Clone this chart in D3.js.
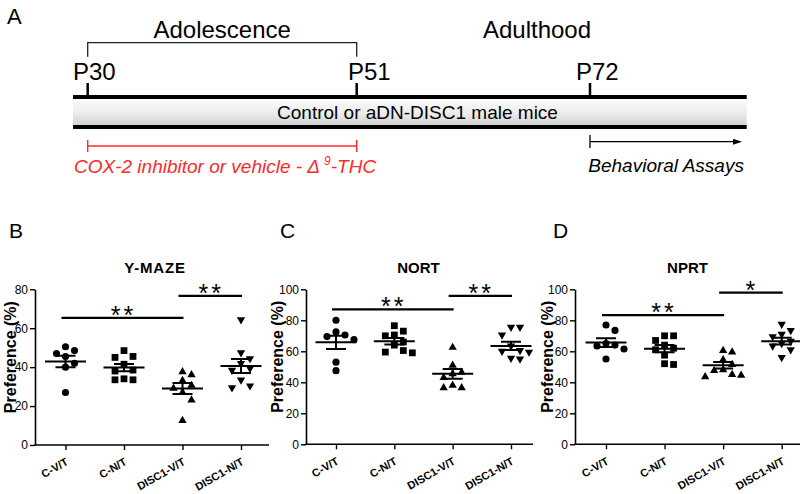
<!DOCTYPE html>
<html><head><meta charset="utf-8">
<script src="https://cdn.jsdelivr.net/npm/d3@7"></script>
<style>body{margin:0;background:#fff}svg{display:block;font-family:"Liberation Sans",Arial,Helvetica,sans-serif}</style>
</head><body><svg id="chart" width="800" height="494"></svg>
<script>
// ---------- DATA ----------
const categories = ["C-V/T", "C-N/T", "DISC1-V/T", "DISC1-N/T"];
const yTicksB = [0, 20, 40, 60, 80];
const yTicksCD = [0, 20, 40, 60, 80, 100];

const ymazeCV = [50.5, 48.5, 47, 45.5, 42, 40, 27];
const ymazeCN = [48.5, 45.5, 45, 41.5, 38.5, 38, 34, 33.5, 33.5];
const ymazeDV = [38, 36.5, 33.5, 31, 29.5, 27.5, 23.5, 13];
const ymazeDN = [64, 47, 44, 41.5, 39, 38, 33, 30, 29];

const nortCV = [80, 72.5, 70.5, 69.5, 67.5, 53, 47.5];
const nortCN = [76.5, 73, 70.5, 70, 66, 64, 60.5, 59.5, 59];
const nortDV = [63, 51.5, 47, 46, 43.5, 38.5, 37, 37];
const nortDN = [75, 75, 70, 63, 60, 59.5, 59, 55, 54.5];

const nprtCV = [77, 73.5, 65, 64, 63.5, 61.5, 55];
const nprtCN = [70, 70, 67, 64, 62, 61, 57.5, 52, 51.5];
const nprtDV = [61, 60, 55, 52, 48.5, 48, 45.5, 45, 44];
const nprtDN = [77, 73, 70.5, 69, 66, 64.5, 63, 60.5, 55.5];

// significance: [fromCategoryIndex, toCategoryIndex, yValue, label]
const ymazeSig = [[0, 2, 65.3, "**"], [2, 3, 76.6, "**"]];
const nortSig = [[0, 2, 87.1, "**"], [2, 3, 95.7, "**"]];
const nprtSig = [[0, 2, 83.4, "**"], [2, 3, 97.8, "*"]];

const timelineDays = [30, 51, 72];
const timelineLabels = ["P30", "P51", "P72"];
const stageLabels = ["Adolescence", "Adulthood"];
const bandText = "Control or aDN-DISC1 male mice";
const treatmentText = ["COX-2 inhibitor or vehicle - \u0394", "9", "-THC"];
const assayText = "Behavioral Assays";
const panelTitles = ["Y-MAZE", "NORT", "NPRT"];
const panelLetters = ["A", "B", "C", "D"];
const yAxisLabel = "Preference (%)";

// ---------- DRAW ----------
const svg = d3.select("#chart");
const red = "#ff2b2b";

// ===== Panel A =====
const tx = d3.scaleLinear().domain(timelineDays).range([87.7, 356.7, 590]);
const defs = svg.append("defs");
const grad = defs.append("linearGradient").attr("id", "band").attr("x1", 0).attr("y1", 0).attr("x2", 0).attr("y2", 1);
grad.append("stop").attr("offset", "0%").attr("stop-color", "#fbfbfb");
grad.append("stop").attr("offset", "55%").attr("stop-color", "#ececec");
grad.append("stop").attr("offset", "100%").attr("stop-color", "#cfcfcf");

const A = svg.append("g");
A.append("text").attr("x", 7).attr("y", 24).attr("font-size", 22).text(panelLetters[0]);

A.append("path").attr("fill", "none").attr("stroke", "#222").attr("stroke-width", 1.3)
  .attr("d", `M${tx(30)},56.7V42.7H${tx(51)}V56.7`);
A.append("text").attr("x", (tx(30) + tx(51)) / 2).attr("y", 37.5).attr("text-anchor", "middle")
  .attr("font-size", 24).text(stageLabels[0]);
A.append("text").attr("x", 537).attr("y", 37.5).attr("text-anchor", "middle")
  .attr("font-size", 24).text(stageLabels[1]);

A.append("rect").attr("x", 73).attr("y", 98).attr("width", 746.7 - 73).attr("height", 28).attr("fill", "url(#band)");
A.append("line").attr("x1", 73).attr("x2", 746.7).attr("y1", 97).attr("y2", 97).attr("stroke", "#000").attr("stroke-width", 4);
A.append("line").attr("x1", 73).attr("x2", 746.7).attr("y1", 127).attr("y2", 127).attr("stroke", "#000").attr("stroke-width", 4);
A.append("text").attr("x", 417.5).attr("y", 118.5).attr("text-anchor", "middle").attr("font-size", 19).text(bandText);

const offs = [-14.7, -8.7, -14];
timelineDays.forEach((d, i) => {
  A.append("line").attr("x1", tx(d)).attr("x2", tx(d)).attr("y1", 83).attr("y2", 97).attr("stroke", "#000").attr("stroke-width", 2.5);
  A.append("text").attr("x", tx(d) + offs[i]).attr("y", 80).attr("font-size", 24).text(timelineLabels[i]);
});

A.append("path").attr("fill", "none").attr("stroke", red).attr("stroke-width", 1.4)
  .attr("d", `M${tx(30)},140V152M${tx(30)},146H${tx(51)}M${tx(51)},140V152`);
const tt = A.append("text").attr("x", 74).attr("y", 172.5).attr("font-size", 19).attr("font-style", "italic").attr("fill", red);
tt.append("tspan").text(treatmentText[0]);
tt.append("tspan").attr("dx", 4).attr("dy", -8).attr("font-size", 12).text(treatmentText[1]);
tt.append("tspan").attr("dy", 8).text(treatmentText[2]);

A.append("path").attr("fill", "none").attr("stroke", "#000").attr("stroke-width", 1.3)
  .attr("d", `M${tx(72)},135V148M${tx(72)},141.7H735`);
A.append("path").attr("fill", "#000").attr("d", "M733,138.7L742,141.7L733,144.7Z");
A.append("text").attr("x", 588.3).attr("y", 171.7).attr("font-size", 19).attr("font-style", "italic").text(assayText);

// ===== Panels B, C, D =====
const panels = [
  { letter: panelLetters[1], title: panelTitles[0], groups: [ymazeCV, ymazeCN, ymazeDV, ymazeDN], sig: ymazeSig,
    ticks: yTicksB, x0: 35, x1: 269, first: 65.5, last: 241, yTop: 289.3, yBot: 445, letterX: 9, titleX: 155, ylabX: 10 },
  { letter: panelLetters[2], title: panelTitles[1], groups: [nortCV, nortCN, nortDV, nortDN], sig: nortSig,
    ticks: yTicksCD, x0: 306, x1: 533, first: 336, last: 511, yTop: 289.3, yBot: 444.3, letterX: 280, titleX: 418.5, ylabX: 277 },
  { letter: panelLetters[3], title: panelTitles[2], groups: [nprtCV, nprtCN, nprtDV, nprtDN], sig: nprtSig,
    ticks: yTicksCD, x0: 575, x1: 800, first: 606, last: 781.7, yTop: 289.3, yBot: 444.3, letterX: 553, titleX: 687.5, ylabX: 547 }
];

const symbolTypes = [d3.symbolCircle, d3.symbolSquare, d3.symbolTriangle, d3.symbolTriangle];
const symbolSizes = [40, 46, 30, 30];
const symbolRot = [0, 0, 0, 180];

function swarm(values, y, cx) {
  const pts = values.map(v => ({ v, py: y(v) })).sort((a, b) => a.py - b.py);
  const placed = [];
  const step = 9, minD = 8;
  pts.forEach(p => {
    for (let k = 0; k < 30; k++) {
      const off = k === 0 ? 0 : (k % 2 ? 1 : -1) * Math.ceil(k / 2) * step;
      const x = cx + off;
      if (placed.every(q => Math.hypot(q.x - x, q.py - p.py) >= minD)) { p.x = x; placed.push(p); break; }
    }
  });
  return placed;
}

panels.forEach(P => {
  const g = svg.append("g");
  const y = d3.scaleLinear().domain([0, d3.max(P.ticks)]).range([P.yBot, P.yTop]);
  const x = d3.scalePoint().domain(categories).range([P.first, P.last]);

  g.append("text").attr("x", P.letterX).attr("y", 238).attr("font-size", 21).text(P.letter);
  g.append("text").attr("x", P.titleX).attr("y", 273).attr("text-anchor", "middle")
    .attr("font-size", 15).attr("font-weight", "bold").attr("letter-spacing", P.title.length > 4 ? 0.8 : 0).text(P.title);
  g.append("text").attr("transform", `translate(${P.ylabX},${(P.yTop + P.yBot) / 2 - 10}) rotate(-90)`)
    .attr("text-anchor", "middle").attr("dominant-baseline", "central")
    .attr("font-size", 16).attr("font-weight", "bold").text(yAxisLabel);

  const ya = g.append("g").attr("transform", `translate(${P.x0},0)`)
    .call(d3.axisLeft(y).tickValues(P.ticks).tickSize(5).tickSizeOuter(0).tickPadding(2));
  ya.select(".domain").attr("stroke-width", 1.6);
  ya.selectAll(".tick line").attr("stroke-width", 1.4);
  ya.selectAll("text").attr("font-size", 12).attr("font-family", null).attr("fill", "#000");

  const xa = g.append("g").attr("transform", `translate(0,${P.yBot})`)
    .call(d3.axisBottom(x).tickSize(5).tickSizeOuter(0));
  xa.select(".domain").remove();
  xa.selectAll(".tick line").attr("stroke-width", 1.4);
  xa.selectAll("text").attr("font-size", 11).attr("font-weight", "bold").attr("font-family", null)
    .attr("text-anchor", "end").attr("fill", "#000")
    .attr("transform", "translate(3,19) rotate(-30)").attr("dy", 0).attr("y", 0).attr("x", 0);
  g.append("line").attr("x1", P.x0 - 0.8).attr("x2", P.x1).attr("y1", P.yBot).attr("y2", P.yBot)
    .attr("stroke", "#000").attr("stroke-width", 1.6);

  P.groups.forEach((vals, i) => {
    const cx = x(categories[i]);
    const pts = swarm(vals, y, cx);
    const sym = d3.symbol().type(symbolTypes[i]).size(symbolSizes[i]);
    g.selectAll(null).data(pts).enter().append("path")
      .attr("d", sym).attr("fill", "#000")
      .attr("transform", d => `translate(${d.x},${d.py + (i === 2 ? 0.8 : i === 3 ? -0.8 : 0)}) rotate(${symbolRot[i]})`);
    const m = d3.mean(vals);
    const sem = d3.deviation(vals) / Math.sqrt(vals.length);
    g.append("line").attr("x1", cx - 20.5).attr("x2", cx + 20.5).attr("y1", y(m)).attr("y2", y(m))
      .attr("stroke", "#000").attr("stroke-width", 2);
    g.append("path").attr("fill", "none").attr("stroke", "#000").attr("stroke-width", 2)
      .attr("d", `M${cx - 10},${y(m + sem)}H${cx + 10}M${cx - 10},${y(m - sem)}H${cx + 10}M${cx},${y(m + sem)}V${y(m - sem)}`);
  });

  P.sig.forEach(([a, b, v, lab]) => {
    const xa1 = x(categories[a]) - 4, xb1 = x(categories[b]) + 1;
    g.append("line").attr("x1", xa1).attr("x2", xb1).attr("y1", y(v)).attr("y2", y(v))
      .attr("stroke", "#000").attr("stroke-width", 2.2);
    g.append("text").attr("x", (xa1 + xb1) / 2 + 1).attr("y", y(v) + 6).attr("text-anchor", "middle")
      .attr("font-size", 25).attr("letter-spacing", 3).text(lab);
  });
});
</script></body></html>
